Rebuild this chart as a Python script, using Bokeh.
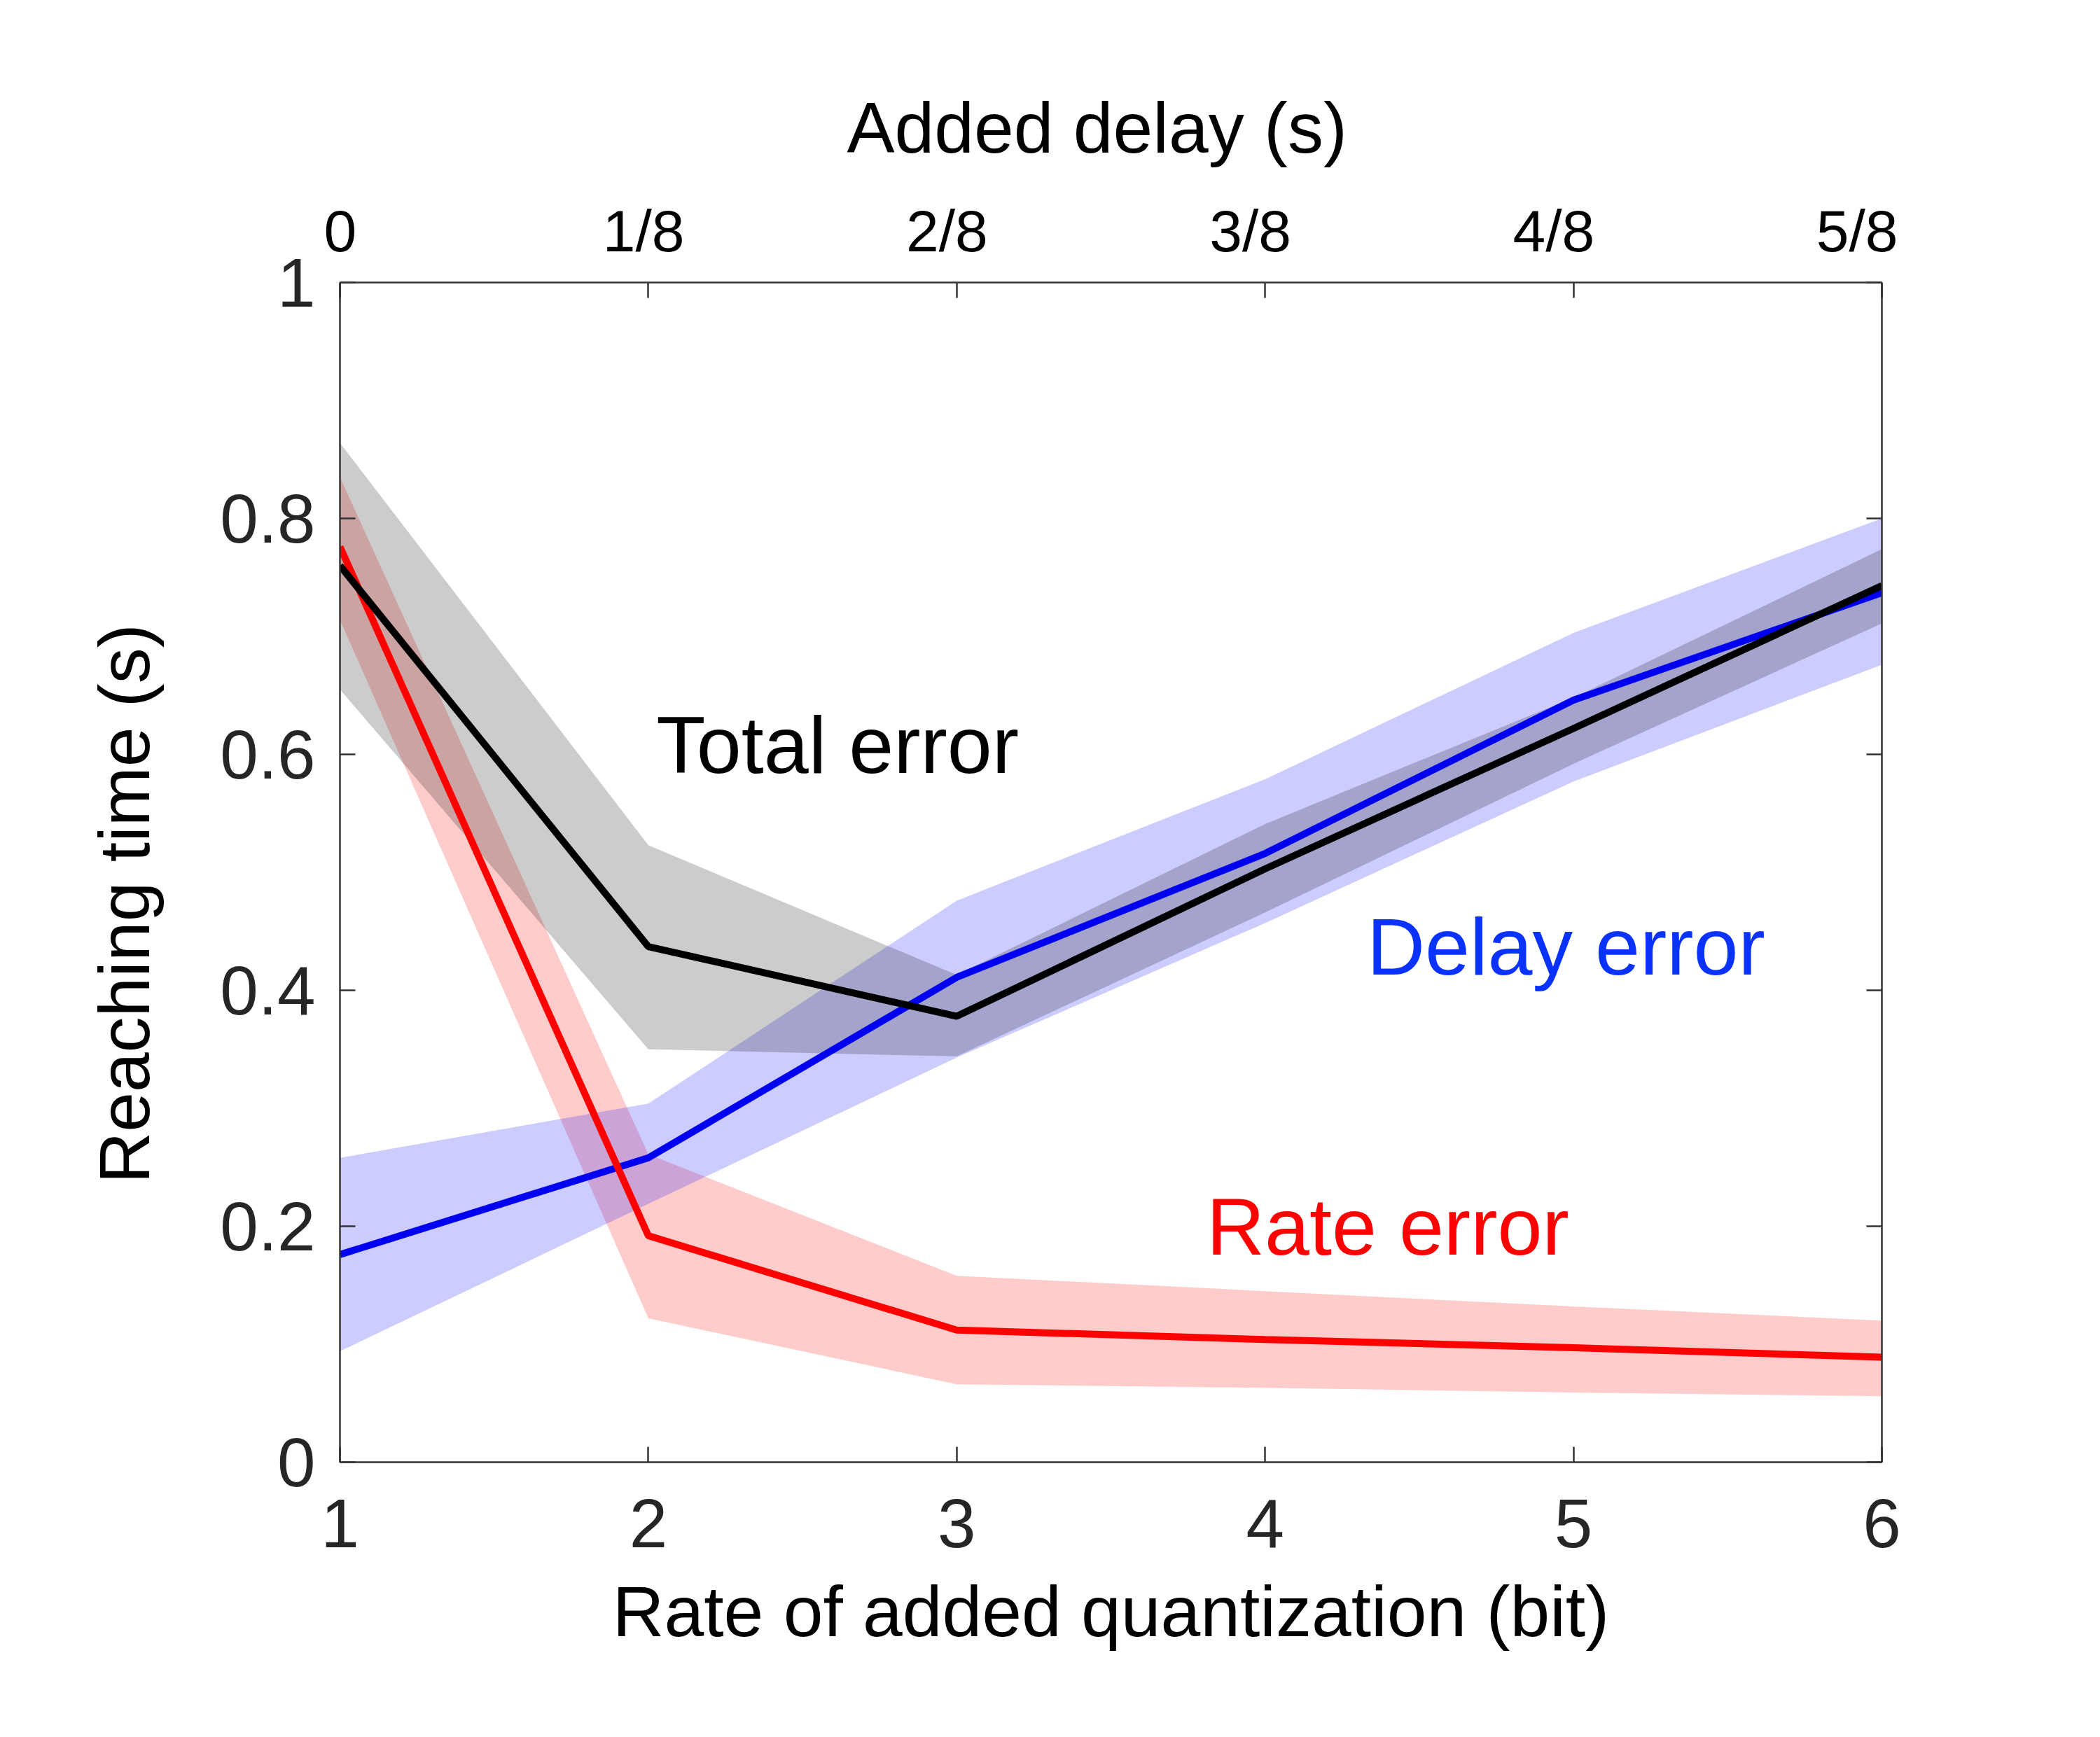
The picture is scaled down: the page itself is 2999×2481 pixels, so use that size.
from bokeh.plotting import figure
from bokeh.models import LinearAxis, FixedTicker, Label, Range1d, Title
from bokeh.embed import file_html
from bokeh.resources import INLINE

# ---- data ----
bits = [1, 2, 3, 4, 5, 6]
delay_labels = ["0", "1/8", "2/8", "3/8", "4/8", "5/8"]
y_ticks = [0, 0.2, 0.4, 0.6, 0.8, 1]
y_tick_labels = ["0", "0.2", "0.4", "0.6", "0.8", "1"]
x_tick_labels = ["1", "2", "3", "4", "5", "6"]

total_mean = [0.760, 0.437, 0.378, 0.503, 0.622, 0.743]
total_upper = [0.864, 0.523, 0.413, 0.541, 0.648, 0.774]
total_lower = [0.655, 0.350, 0.344, 0.466, 0.592, 0.711]

delay_mean = [0.176, 0.258, 0.411, 0.516, 0.646, 0.737]
delay_upper = [0.258, 0.304, 0.476, 0.579, 0.703, 0.800]
delay_lower = [0.094, 0.219, 0.343, 0.457, 0.577, 0.676]

rate_mean = [0.776, 0.192, 0.112, 0.104, 0.097, 0.089]
rate_upper = [0.835, 0.261, 0.158, 0.145, 0.132, 0.120]
rate_lower = [0.714, 0.122, 0.066, 0.063, 0.059, 0.056]

FONT = "Liberation Sans"
AX_COLOR = "#333333"
TICK_COLOR = "#262626"

p = figure(width=2983, height=2465,
           x_range=Range1d(1, 6), y_range=Range1d(0, 1),
           output_backend="svg", toolbar_location=None,
           min_border_left=485, min_border_right=296,
           min_border_top=403, min_border_bottom=377)
# the delay labels in the reference sit on a slightly narrower scale than the ticks
p.extra_x_ranges = {"delay_lbl": Range1d(0.999, 6.0818)}
p.xgrid.visible = False
p.ygrid.visible = False
p.outline_line_color = None
p.background_fill_color = "white"
p.border_fill_color = "white"

# bands
p.varea(x=bits, y1=rate_lower, y2=rate_upper, fill_color="red", fill_alpha=0.2)
p.varea(x=bits, y1=delay_lower, y2=delay_upper, fill_color="blue", fill_alpha=0.2)
p.varea(x=bits, y1=total_lower, y2=total_upper, fill_color="black", fill_alpha=0.2)

# lines
p.line(bits, delay_mean, line_color="#0000F0", line_width=10)
p.line(bits, rate_mean, line_color="#FF0000", line_width=10)
p.line(bits, total_mean, line_color="black", line_width=10)

def style_axis(ax, label_size, label_color):
    ax.axis_line_color = AX_COLOR
    ax.axis_line_width = 2.5
    ax.major_tick_line_color = AX_COLOR
    ax.major_tick_line_width = 2.5
    ax.major_tick_in = 22
    ax.major_tick_out = 0
    ax.minor_tick_line_color = None
    ax.major_label_text_font = FONT
    ax.major_label_text_font_size = label_size
    ax.major_label_text_color = label_color
    ax.axis_label_text_font = FONT
    ax.axis_label_text_font_size = "102px"
    ax.axis_label_text_font_style = "normal"
    ax.axis_label_text_color = "black"

# bottom axis
xa = p.xaxis[0]
xa.ticker = FixedTicker(ticks=bits)
xa.major_label_overrides = dict(zip(bits, x_tick_labels))
style_axis(xa, "98px", TICK_COLOR)
xa.axis_label = "Rate of added quantization (bit)"
xa.major_label_standoff = 53
xa.axis_label_standoff = 32

# left axis
ya = p.yaxis[0]
ya.ticker = FixedTicker(ticks=y_ticks)
ya.major_label_overrides = dict(zip(y_ticks, y_tick_labels))
style_axis(ya, "98px", TICK_COLOR)
ya.major_label_standoff = 35

# top axis: line + ticks (no labels)
top_ticks = LinearAxis(ticker=FixedTicker(ticks=bits),
                       major_label_overrides={b: "" for b in bits})
style_axis(top_ticks, "1px", "black")
top_ticks.major_label_standoff = 0
p.add_layout(top_ticks, "above")

# top axis: delay labels (no line / ticks)
top_lbl = LinearAxis(x_range_name="delay_lbl", ticker=FixedTicker(ticks=bits),
                     major_label_overrides=dict(zip(bits, delay_labels)))
style_axis(top_lbl, "84px", "black")
top_lbl.axis_line_color = None
top_lbl.major_tick_line_color = None
top_lbl.major_tick_in = 0
top_lbl.major_label_standoff = 27
p.add_layout(top_lbl, "above")

# right axis (ticks only)
right = LinearAxis(ticker=FixedTicker(ticks=y_ticks),
                   major_label_overrides={t: "" for t in y_ticks})
style_axis(right, "10px", TICK_COLOR)
right.major_label_standoff = 0
p.add_layout(right, "right")

# axis titles placed as titles so they can sit slightly off-centre
p.add_layout(Title(text="Reaching time (s)", align="left", offset=398,
                   standoff=154, text_font=FONT, text_font_size="102px",
                   text_font_style="normal", text_color="black"), "left")
p.add_layout(Title(text="Added delay (s)", align="left", offset=724,
                   standoff=80, text_font=FONT, text_font_size="102px",
                   text_font_style="normal", text_color="black"), "above")

# annotations
for txt, x, y, col in [("Total error", 2.026, 0.608, "black"),
                       ("Delay error", 4.330, 0.437, "#0A32FF"),
                       ("Rate error", 3.810, 0.200, "#FF0000")]:
    p.add_layout(Label(x=x, y=y, text=txt, text_font=FONT,
                       text_font_size="115px", text_color=col,
                       text_baseline="alphabetic", text_align="left"))

open("out.html", "w").write(file_html(p, INLINE))
